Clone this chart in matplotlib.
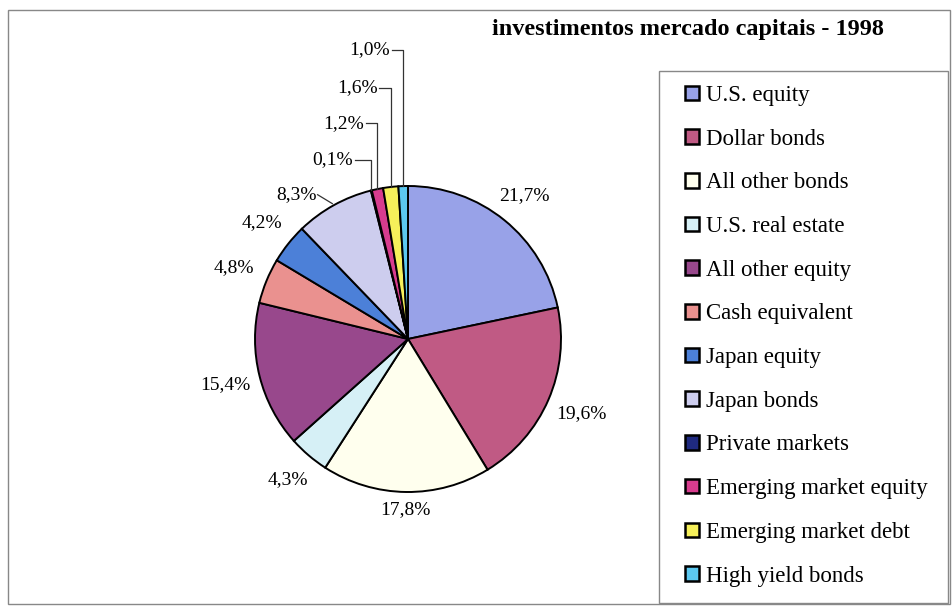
import numpy as np
import matplotlib.pyplot as plt
from matplotlib.patches import Rectangle

plt.rcParams['font.family'] = ['Liberation Serif', 'DejaVu Serif']

# dados
categorias = ["U.S. equity", "Dollar bonds", "All other bonds", "U.S. real estate",
              "All other equity", "Cash equivalent", "Japan equity", "Japan bonds",
              "Private markets", "Emerging market equity", "Emerging market debt",
              "High yield bonds"]
valores = [21.7, 19.6, 17.8, 4.3, 15.4, 4.8, 4.2, 8.3, 0.1, 1.2, 1.6, 1.0]
rotulos = ["21,7%", "19,6%", "17,8%", "4,3%", "15,4%", "4,8%", "4,2%", "8,3%",
           "0,1%", "1,2%", "1,6%", "1,0%"]
cores = ["#98A2E8", "#C05A84", "#FFFFEE", "#D6F0F6", "#98488C", "#EA918F",
         "#4C80D8", "#CDCDEE", "#1F2A80", "#D83C8E", "#F6F05A", "#5CC8F0"]
titulo = "investimentos mercado capitais - 1998"

W, H = 952, 608
cx, cy, R = 408, 339, 153   # centro e raio da pizza em pixels

fig = plt.figure(figsize=(W / 100, H / 100), dpi=100)
ax = fig.add_axes([0, 0, 1, 1])
ax.axis('off')

wedges, _ = ax.pie(valores, colors=cores, startangle=90, counterclock=False,
                   radius=1, wedgeprops=dict(edgecolor='black', linewidth=1.4))
ax.set_xlim(-cx / R, (W - cx) / R)
ax.set_ylim(-(H - cy) / R, cy / R)

fs = 14
meia_l, meia_a = 0.165, 0.055
# fatias pequenas: rótulos empilhados acima com linhas de chamada
pequenas_y = {8: 1.17, 9: 1.41, 10: 1.64, 11: 1.89}
for i, w in enumerate(wedges):
    ang = np.deg2rad((w.theta1 + w.theta2) / 2)
    ex, ey = np.cos(ang), np.sin(ang)
    if i in pequenas_y:
        ly = pequenas_y[i]
        xend = ex - (0.11 if i == 8 else 0.075)
        ax.plot([ex, ex, xend], [ey, ly, ly], color='#333333', lw=0.9)
        ax.text(xend - 0.01, ly, rotulos[i], ha='right', va='center', fontsize=fs)
        continue
    if i == 7:
        a2 = ang + np.deg2rad(8.6)
        tx, ty = 1.19 * np.cos(a2), 1.19 * np.sin(a2)
        ax.plot([tx + 0.135, ex - 0.01], [ty, ey + 0.01], color='#333333', lw=0.9)
        ax.text(tx, ty, rotulos[i], ha='center', va='center', fontsize=fs)
        continue
    r = 1.06 + meia_l * abs(ex) + meia_a * abs(ey)
    ax.text(r * ex, r * ey, rotulos[i], ha='center', va='center', fontsize=fs)

# moldura externa e caixa da legenda
fig.patches.append(Rectangle((8 / W, 1 - 604 / H), 942 / W, 594 / H,
                             transform=fig.transFigure, fill=False,
                             edgecolor='#888888', lw=1.0))
fig.patches.append(Rectangle((659 / W, 1 - 603 / H), 289 / W, 532 / H,
                             transform=fig.transFigure, fill=False,
                             edgecolor='#888888', lw=1.0))

fig.text(688 / W, 1 - 30 / H, titulo, ha='center', va='center',
         fontsize=17.5, fontweight='bold')

leg = fig.legend(wedges, categorias, loc='upper left',
                 bbox_to_anchor=(685 / W, 1 - 85 / H),
                 fontsize=16.5, frameon=False,
                 handlelength=0.6, handleheight=0.6, handletextpad=0.3,
                 labelspacing=0.99, borderpad=0.0, borderaxespad=0.0)
for h in leg.legend_handles:
    h.set_linewidth(1.8)

fig.savefig("out.png", dpi=100)
